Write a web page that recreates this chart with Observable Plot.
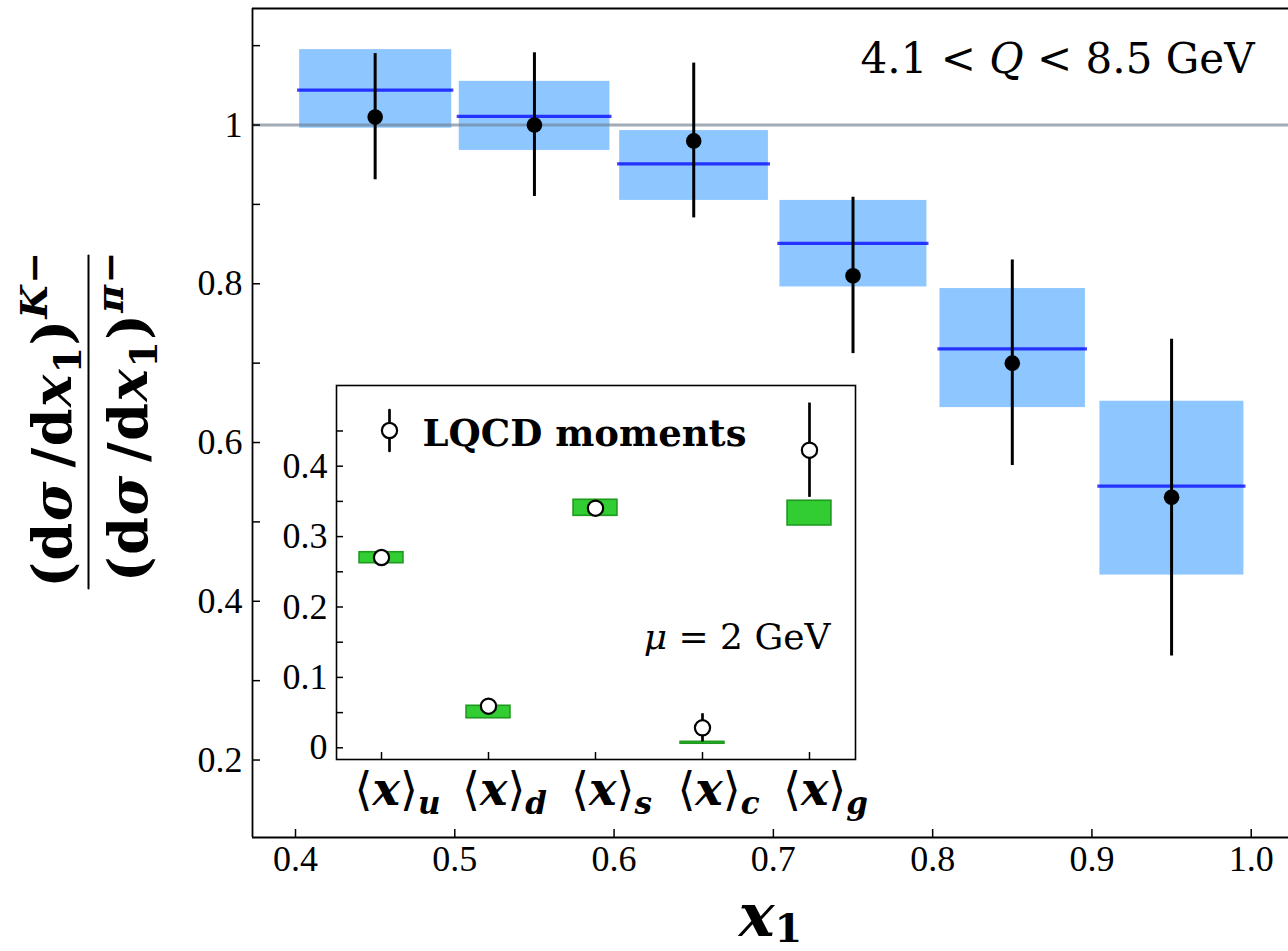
<!DOCTYPE html>
<html>
<head>
<meta charset="utf-8">
<script src="https://cdn.jsdelivr.net/npm/d3@7"></script>
<script src="https://cdn.jsdelivr.net/npm/@observablehq/plot@0.6"></script>
<style>
  body { margin: 0; background: #fff; }
  #wrap { position: relative; width: 1288px; height: 951px; }
  #inset { position: absolute; left: 276px; top: 383px; width: 581px; height: 446px; }
</style>
</head>
<body>
<div id="wrap"><div id="main"></div><div id="inset"></div></div>
<script>
// ---------------- main panel data ----------------
const x1Centers  = [0.45, 0.55, 0.65, 0.75, 0.85, 0.95];
const ratio      = [1.010, 1.000, 0.980, 0.810, 0.700, 0.531];
const ratioErrLo = [0.931, 0.910, 0.883, 0.712, 0.571, 0.331];
const ratioErrHi = [1.090, 1.091, 1.078, 0.909, 0.830, 0.730];
const binLeft    = [0.4026, 0.5028, 0.6035, 0.7041, 0.8046, 0.9050];
const binRight   = [0.4981, 0.5974, 0.6969, 0.7964, 0.8959, 0.9954];
const bandLo     = [0.996, 0.968, 0.905, 0.796, 0.644, 0.433];
const bandHi     = [1.095, 1.055, 0.993, 0.905, 0.794, 0.652];
const bandMid    = [1.044, 1.011, 0.951, 0.851, 0.718, 0.545];
const xTicks     = [0.4, 0.5, 0.6, 0.7, 0.8, 0.9, 1.0];
const yMajor     = [0.2, 0.4, 0.6, 0.8, 1.0];
const yMinor     = [0.3, 0.5, 0.7, 0.9, 1.1];
const qLabel     = "4.1 < Q < 8.5 GeV";

// ---------------- inset data ----------------
const momentNames = ["u", "d", "s", "c", "g"];
const lqcd        = [0.2703, 0.0591, 0.3403, 0.0284, 0.4227];
const lqcdErr     = [0.006, 0.006, 0.006, 0.020, 0.067];
const fitLo       = [0.2622, 0.0420, 0.3295, 0.0058, 0.3158];
const fitHi       = [0.2778, 0.0597, 0.3523, 0.0085, 0.3509];
const insetMajor  = [0, 0.1, 0.2, 0.3, 0.4];
const insetMinor  = [0.05, 0.15, 0.25, 0.35, 0.45];
const legendLabel = "LQCD moments";
const muLabel     = "μ = 2 GeV";

const rows = x1Centers.map((x, i) => ({
  x, v: ratio[i], lo: ratioErrLo[i], hi: ratioErrHi[i],
  xl: binLeft[i], xr: binRight[i], bl: bandLo[i], bh: bandHi[i], bm: bandMid[i]
}));
const irows = momentNames.map((n, i) => ({
  i, n, v: lqcd[i], e: lqcdErr[i], bl: fitLo[i], bh: fitHi[i]
}));

const lineShape = {draw(context, l) { context.moveTo(0, 0); context.lineTo(0, -l); }};
const xDom = [0.373, 1.0234];
const yDom = [0.1024, 1.1468];

const main = Plot.plot({
  width: 1288, height: 951,
  marginLeft: 252, marginRight: 0, marginTop: 8, marginBottom: 114,
  x: {domain: xDom, axis: null},
  y: {domain: yDom, axis: null},
  style: {background: "white", fontFamily: "Liberation Serif", color: "black", overflow: "visible"},
  marks: [
    Plot.rect(rows, {x1: "xl", x2: "xr", y1: "bl", y2: "bh", fill: "dodgerblue", fillOpacity: 0.5}),
    Plot.ruleY([1], {stroke: "slategray", strokeOpacity: 0.65, strokeWidth: 3}),
    Plot.ruleY(rows, {y: "bm", x1: d => d.xl - 0.0013, x2: d => d.xr + 0.0013, stroke: "blue", strokeOpacity: 0.75, strokeWidth: 3.3}),
    Plot.ruleX(rows, {x: "x", y1: "lo", y2: "hi", stroke: "black", strokeWidth: 3}),
    Plot.dot(rows, {x: "x", y: "v", r: 7.8, fill: "black"}),
    // frame (left, top, bottom)
    Plot.ruleX([xDom[0]], {stroke: "black", strokeWidth: 1.8}),
    Plot.ruleY([yDom[0]], {stroke: "black", strokeWidth: 1.8}),
    Plot.ruleY([yDom[1]], {stroke: "black", strokeWidth: 1.8}),
    Plot.axisX({ticks: xTicks, tickSize: -8, tickPadding: 16, strokeWidth: 1.5, tickFormat: d3.format(".1f"), fontSize: 36, label: null}),
    Plot.axisY({ticks: yMajor, tickSize: -8, tickPadding: 18, strokeWidth: 1.5, tickFormat: d => d === 1 ? "1" : d.toFixed(1), fontSize: 36, label: null}),
    Plot.axisY({ticks: yMinor, tickSize: -8, strokeWidth: 1.5, tickFormat: () => "", label: null}),
    Plot.text([qLabel], {text: d => d, frameAnchor: "top-right", dx: -34, dy: 64, lineAnchor: "bottom", textAnchor: "end",
      fontSize: 42, fontFamily: "DejaVu Serif"}),
    Plot.text(["XLABEL"], {text: d => d, frameAnchor: "bottom", dy: 98, lineAnchor: "bottom", textAnchor: "middle",
      fontSize: 60, fontFamily: "DejaVu Serif", fontWeight: "bold"}),
    Plot.text(["YNUM"], {text: d => d, frameAnchor: "left", dx: -182, dy: -4, rotate: -90, lineAnchor: "bottom", textAnchor: "middle",
      fontSize: 54, fontFamily: "DejaVu Serif", fontWeight: "bold"}),
    Plot.text(["YDEN"], {text: d => d, frameAnchor: "left", dx: -106, dy: -7, rotate: -90, lineAnchor: "bottom", textAnchor: "middle",
      fontSize: 54, fontFamily: "DejaVu Serif", fontWeight: "bold"}),
    Plot.vector([0], {frameAnchor: "left", dx: -164, dy: -1, length: 333, rotate: 0, anchor: "middle",
      shape: lineShape, stroke: "black", strokeWidth: 2})
  ]
});
document.getElementById("main").appendChild(main);

const boxHalf = 0.205;
const inset = Plot.plot({
  width: 581, height: 446,
  marginLeft: 60, marginRight: 2, marginTop: 2, marginBottom: 70,
  x: {domain: [-0.4206, 4.43], axis: null},
  y: {domain: [-0.0166, 0.5146], axis: null},
  style: {background: "transparent", fontFamily: "Liberation Serif", color: "black", overflow: "visible"},
  marks: [
    Plot.frame({fill: "white", stroke: "black", strokeWidth: 1.6}),
    Plot.rect(irows, {x1: d => d.i - boxHalf, x2: d => d.i + boxHalf, y1: "bl", y2: "bh",
      fill: "limegreen", stroke: "#1f9a1f", strokeWidth: 1.6}),
    Plot.ruleX(irows, {x: "i", y1: d => d.v - d.e, y2: d => d.v + d.e, stroke: "black", strokeWidth: 2.7}),
    Plot.dot(irows, {x: "i", y: "v", r: 7.6, fill: "white", stroke: "black", strokeWidth: 2.2}),
    Plot.axisX({ticks: irows.map(d => d.i), tickSize: -7, tickPadding: 20, strokeWidth: 1.5,
      tickFormat: i => momentNames[i], fontSize: 46, fontFamily: "DejaVu Serif", label: null}),
    Plot.axisY({ticks: insetMajor, tickSize: -7, tickPadding: 16, strokeWidth: 1.5,
      tickFormat: d => d === 0 ? "0" : d.toFixed(1), fontSize: 36, label: null}),
    Plot.axisY({ticks: insetMinor, tickSize: -7, strokeWidth: 1.5, tickFormat: () => "", label: null}),
    // legend
    Plot.vector([0], {frameAnchor: "top-left", dx: 53, dy: 45, length: 41, rotate: 0, anchor: "middle",
      shape: lineShape, stroke: "black", strokeWidth: 2.7}),
    Plot.dot([0], {frameAnchor: "top-left", dx: 53, dy: 45, r: 7.6, fill: "white", stroke: "black", strokeWidth: 2.2}),
    Plot.text([legendLabel], {text: d => d, frameAnchor: "top-left", dx: 86, dy: 60, lineAnchor: "bottom", textAnchor: "start",
      fontSize: 37, fontFamily: "DejaVu Serif", fontWeight: "bold"}),
    Plot.text([muLabel], {text: d => d, frameAnchor: "top-right", dx: -25, dy: 263, lineAnchor: "bottom", textAnchor: "end",
      fontSize: 36, fontFamily: "DejaVu Serif"})
  ]
});
document.getElementById("inset").appendChild(inset);

// ---------- rich text helpers ----------
function findText(svg, content) {
  return Array.from(svg.querySelectorAll("text")).find(t => t.textContent === content);
}
function rebuild(node, parts) {
  if (!node) return;
  const t = d3.select(node);
  t.text(null).attr("xml:space", "preserve").style("white-space", "pre");
  for (const p of parts) {
    const s = t.append("tspan").text(p.t);
    for (const [k, v] of Object.entries(p)) if (k !== "t") s.attr(k, v);
  }
}
rebuild(findText(main, qLabel), [{t: "4.1 < "}, {t: "Q", "font-style": "italic"}, {t: " < 8.5 GeV"}]);
rebuild(findText(main, "XLABEL"), [{t: "x", "font-style": "italic"}, {t: "1", "font-size": 40, dy: 6}]);

function fracPart(sym) {
  return [
    {t: "(d"}, {t: "σ", "font-style": "italic"}, {t: "\u2009/d"}, {t: "x", "font-style": "italic"},
    {t: "1", "font-size": 38, dy: 10}, {t: ")", "font-size": 54, dy: -10},
    {t: sym, "font-size": 38, "font-style": "italic", dy: -24}, {t: "−", "font-size": 38}
  ];
}
const yn = findText(main, "YNUM"), yd = findText(main, "YDEN");
rebuild(yn, fracPart("K"));
rebuild(yd, fracPart("π"));
[yn, yd].forEach(n => n && n.setAttribute("letter-spacing", "1.5"));
rebuild(findText(inset, muLabel), [{t: "μ", "font-style": "italic"}, {t: " = 2 GeV"}]);

inset.querySelectorAll('g[aria-label="x-axis tick label"] text').forEach(node => {
  const name = node.textContent;
  rebuild(node, [
    {t: "⟨", "font-family": "DejaVu Sans"},
    {t: "x", "font-style": "italic", "font-weight": "bold"},
    {t: "⟩", "font-family": "DejaVu Sans"},
    {t: name, "font-style": "italic", "font-weight": "bold", "font-size": 31, dy: 9}
  ]);
  const tr = node.getAttribute("transform") || "";
  node.setAttribute("transform", tr + " translate(16,0)");
});
</script>
</body>
</html>
